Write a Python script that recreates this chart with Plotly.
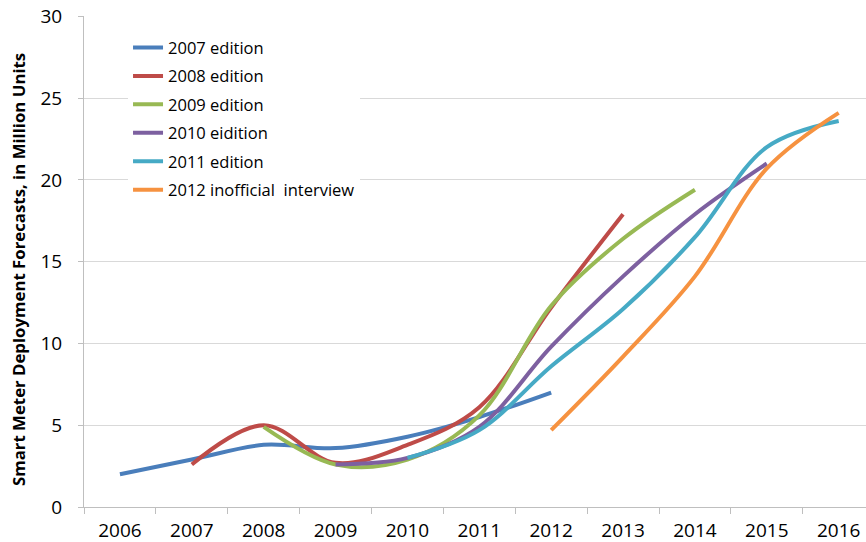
import plotly.graph_objects as go

years = [2006, 2007, 2008, 2009, 2010, 2011, 2012, 2013, 2014, 2015, 2016]

ed2007_x = [2006, 2007, 2008, 2009, 2010, 2011, 2012]
ed2007_y = [2.0, 2.9, 3.8, 3.6, 4.3, 5.5, 7.0]

ed2008_x = [2007, 2008, 2009, 2010, 2011, 2012, 2013]
ed2008_y = [2.6, 5.0, 2.7, 3.8, 6.1, 12.2, 17.9]

ed2009_x = [2008, 2009, 2010, 2011, 2012, 2013, 2014]
ed2009_y = [4.9, 2.6, 2.9, 5.6, 12.3, 16.4, 19.4]

ed2010_x = [2009, 2010, 2011, 2012, 2013, 2014, 2015]
ed2010_y = [2.6, 3.0, 4.9, 9.8, 14.1, 17.9, 21.0]

ed2011_x = [2010, 2011, 2012, 2013, 2014, 2015, 2016]
ed2011_y = [3.0, 4.7, 8.6, 12.1, 16.5, 22.0, 23.6]

ed2012_x = [2012, 2013, 2014, 2015, 2016]
ed2012_y = [4.7, 9.2, 14.1, 20.7, 24.1]

y_ticks = [0, 5, 10, 15, 20, 25, 30]

series = [
    ("2007 edition", ed2007_x, ed2007_y, "#4A7EBB"),
    ("2008 edition", ed2008_x, ed2008_y, "#BE4B48"),
    ("2009 edition", ed2009_x, ed2009_y, "#98B954"),
    ("2010 eidition", ed2010_x, ed2010_y, "#7D60A0"),
    ("2011 edition", ed2011_x, ed2011_y, "#46AAC5"),
    ("2012 inofficial\u00a0 interview", ed2012_x, ed2012_y, "#F69240"),
]

font_family = "Open Sans"

fig = go.Figure()
for i, (name, xs, ys, color) in enumerate(series):
    fig.add_trace(go.Scatter(
        x=xs, y=ys, name=name, mode="lines",
        line=dict(color=color, width=4, shape="spline", smoothing=1.0),
        legendgroup=f"g{i}",
    ))

fig.update_layout(
    width=866, height=542,
    margin=dict(l=84, r=0, t=16, b=35),
    paper_bgcolor="white", plot_bgcolor="white",
    font=dict(family=font_family, color="#000000"),
    showlegend=True,
    legend=dict(
        x=0.0563, y=0.971, xanchor="left", yanchor="top",
        bgcolor="white", font=dict(size=16.5, family=font_family, color="#000000"),
        tracegroupgap=4, borderwidth=0,
    ),
    xaxis=dict(
        range=[2005.5, 2016.38], automargin=False,
        tickmode="array", tickvals=years, ticktext=[str(y) for y in years],
        ticks="", showgrid=False, zeroline=False,
        showline=True, linecolor="#BFBFBF", linewidth=1,
        tickfont=dict(size=19, family=font_family, color="#000000"),
        ticklabelstandoff=6, ticklabeloverflow="allow",
        minor=dict(tickmode="linear", tick0=2005.5, dtick=1, ticks="outside",
                   ticklen=6, tickcolor="#BFBFBF", tickwidth=1, showgrid=False),
    ),
    yaxis=dict(
        range=[0, 30.02], automargin=False,
        tickmode="array", tickvals=y_ticks,
        showgrid=True, gridcolor="#D9D9D9", gridwidth=1, zeroline=False,
        showline=True, linecolor="#BFBFBF", linewidth=1,
        ticks="outside", ticklen=5, tickcolor="#BFBFBF",
        tickfont=dict(size=19, family=font_family, color="#000000"),
        ticklabelstandoff=12, ticklabeloverflow="allow",
    ),
    annotations=[dict(
        text="<b>Smart Meter Deployment Forecasts, in Million Units</b>",
        xref="paper", yref="paper", x=-0.0831, y=0.4827,
        xanchor="center", yanchor="middle", textangle=-90, showarrow=False,
        font=dict(size=16.8, family=font_family, color="#000000"),
    )],
)

# remove the default 8px page margin so the figure fills the window exactly
fig.write_html("out.html", config={"displayModeBar": False},
               post_script="document.body.style.margin='0px';")
